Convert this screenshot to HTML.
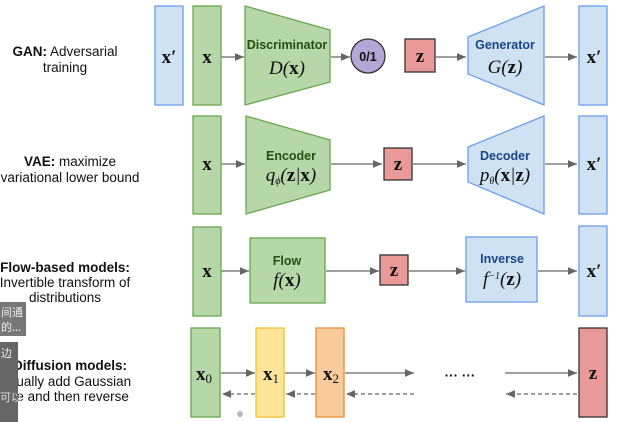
<!DOCTYPE html>
<html><head><meta charset="utf-8"><style>
html,body{margin:0;padding:0;background:#fff;width:632px;height:422px;overflow:hidden}
svg{display:block}
.l{font-family:"Liberation Sans",sans-serif;font-size:13.5px;fill:#111;text-anchor:middle}
.b{font-weight:bold}
.m{font-family:"Liberation Serif",serif;font-size:19px;fill:#111;text-anchor:middle}
.mb{font-family:"Liberation Serif",serif;font-weight:bold;font-size:19px;fill:#111;text-anchor:middle}
.t{font-family:"Liberation Sans",sans-serif;font-weight:bold;font-size:12.5px;text-anchor:middle}
</style></head><body>
<svg width="632" height="422" viewBox="0 0 632 422">
<defs><marker id="a" markerWidth="8" markerHeight="8" refX="7" refY="3" orient="auto"><path d="M0,0 L7,3 L0,6z" fill="#666"/></marker></defs>
<g stroke="#666" stroke-width="1.3" fill="none" marker-end="url(#a)">
<line x1="221" y1="57" x2="244" y2="57"/><line x1="331" y1="57" x2="350" y2="57"/>
<line x1="436" y1="57" x2="466" y2="57"/><line x1="545" y1="57" x2="577" y2="57"/>
<line x1="221" y1="164" x2="245" y2="164"/><line x1="331" y1="164" x2="382" y2="164"/>
<line x1="413" y1="164" x2="466" y2="164"/><line x1="545" y1="164" x2="577" y2="164"/>
<line x1="221" y1="271" x2="249" y2="271"/><line x1="326" y1="271" x2="379" y2="271"/>
<line x1="409" y1="271" x2="465" y2="271"/><line x1="538" y1="271" x2="577" y2="271"/>
<line x1="221" y1="373" x2="255" y2="373"/><line x1="285" y1="373" x2="315" y2="373"/>
<line x1="345" y1="373" x2="414" y2="373"/><line x1="505" y1="373" x2="577" y2="373"/>
</g>
<g stroke="#666" stroke-width="1.3" fill="none" stroke-dasharray="4,3" marker-end="url(#a)">
<line x1="255" y1="394" x2="222" y2="394"/><line x1="315" y1="394" x2="286" y2="394"/>
<line x1="414" y1="394" x2="346" y2="394"/><line x1="577" y1="394" x2="506" y2="394"/>
</g>
<g stroke-width="1.3">
<rect x="155" y="6" width="28" height="99" fill="#cfe2f3" stroke="#6d9eeb"/>
<rect x="193" y="6" width="28" height="99" fill="#b6d7a8" stroke="#6aa84f"/>
<polygon points="245,6 330,30 330,82 245,105" fill="#b6d7a8" stroke="#6aa84f"/>
<circle cx="368" cy="56" r="17" fill="#b4a7d6" stroke="#333"/>
<rect x="405" y="39" width="30" height="33" fill="#ea9999" stroke="#333"/>
<polygon points="468,37 544,6 544,105 468,74" fill="#cfe2f3" stroke="#6d9eeb"/>
<rect x="579" y="6" width="28" height="99" fill="#cfe2f3" stroke="#6d9eeb"/>
<rect x="193" y="116" width="28" height="98" fill="#b6d7a8" stroke="#6aa84f"/>
<polygon points="246,116 330,140 330,190 246,214" fill="#b6d7a8" stroke="#6aa84f"/>
<rect x="384" y="148" width="28" height="32" fill="#ea9999" stroke="#333"/>
<polygon points="468,147 544,116 544,214 468,182" fill="#cfe2f3" stroke="#6d9eeb"/>
<rect x="579" y="116" width="28" height="98" fill="#cfe2f3" stroke="#6d9eeb"/>
<rect x="193" y="227" width="28" height="89" fill="#b6d7a8" stroke="#6aa84f"/>
<rect x="250" y="238" width="75" height="65" fill="#b6d7a8" stroke="#6aa84f"/>
<rect x="380" y="255" width="28" height="30" fill="#ea9999" stroke="#333"/>
<rect x="466" y="237" width="71" height="65" fill="#cfe2f3" stroke="#6d9eeb"/>
<rect x="579" y="226" width="28" height="90" fill="#cfe2f3" stroke="#6d9eeb"/>
<rect x="191" y="328" width="29" height="89" fill="#b6d7a8" stroke="#6aa84f"/>
<rect x="256" y="328" width="28" height="89" fill="#ffe599" stroke="#f1c232"/>
<rect x="316" y="328" width="28" height="89" fill="#f9cb9c" stroke="#e69138"/>
<rect x="579" y="328" width="28" height="89" fill="#ea9999" stroke="#333"/>
</g>
<text class="mb" x="169" y="63">x′</text><text class="mb" x="207" y="63">x</text>
<text class="t" x="287" y="49" fill="#274e13">Discriminator</text>
<text class="m" x="287" y="74" font-style="italic">D(<tspan font-weight="bold" font-style="normal">x</tspan>)</text>
<text class="t" x="368" y="61" font-size="15" fill="#111">0/1</text>
<text class="mb" x="420" y="62">z</text>
<text class="t" x="505" y="49" fill="#1c4587">Generator</text>
<text class="m" x="505" y="73" font-style="italic">G(<tspan font-weight="bold" font-style="normal">z</tspan>)</text>
<text class="mb" x="594" y="63">x′</text>
<text class="mb" x="207" y="170">x</text>
<text class="t" x="291" y="160" fill="#274e13">Encoder</text>
<text class="m" x="291" y="181" font-size="16" font-style="italic">q<tspan font-size="10" dy="3">ϕ</tspan><tspan dy="-3">(</tspan><tspan font-weight="bold" font-style="normal">z</tspan>|<tspan font-weight="bold" font-style="normal">x</tspan>)</text>
<text class="mb" x="398" y="170">z</text>
<text class="t" x="505" y="160" fill="#1c4587">Decoder</text>
<text class="m" x="505" y="181" font-size="16" font-style="italic">p<tspan font-size="10" dy="3">θ</tspan><tspan dy="-3">(</tspan><tspan font-weight="bold" font-style="normal">x</tspan>|<tspan font-weight="bold" font-style="normal">z</tspan>)</text>
<text class="mb" x="594" y="170">x′</text>
<text class="mb" x="207" y="277">x</text>
<text class="t" x="287" y="265" fill="#274e13" font-size="13.5">Flow</text>
<text class="m" x="287" y="286" font-style="italic">f(<tspan font-weight="bold" font-style="normal">x</tspan>)</text>
<text class="mb" x="394" y="276">z</text>
<text class="t" x="502" y="263" fill="#1c4587" font-size="13.5">Inverse</text>
<text class="m" x="502" y="285" font-style="italic">f<tspan font-size="10" dy="-6">−1</tspan><tspan dy="6">(</tspan><tspan font-weight="bold" font-style="normal">z</tspan>)</text>
<text class="mb" x="594" y="277">x′</text>
<text class="mb" x="204" y="380" font-size="20">x<tspan font-size="13" dy="3" font-weight="normal">0</tspan></text>
<text class="mb" x="271" y="380" font-size="20">x<tspan font-size="13" dy="3" font-weight="normal">1</tspan></text>
<text class="mb" x="331" y="380" font-size="20">x<tspan font-size="13" dy="3" font-weight="normal">2</tspan></text>
<text class="mb" x="593" y="379">z</text>
<text class="l" x="460" y="380" font-size="16" font-weight="bold">··· ···</text>
<text class="l" x="65" y="56"><tspan class="b">GAN:</tspan> Adversarial</text>
<text class="l" x="65" y="72">training</text>
<text class="l" x="70" y="166"><tspan class="b">VAE:</tspan> maximize</text>
<text class="l" x="70" y="182">variational lower bound</text>
<text class="l b" x="65" y="272">Flow-based models:</text>
<text class="l" x="65" y="287">Invertible transform of</text>
<text class="l" x="65" y="302">distributions</text>
<text class="l b" x="70" y="370">Diffusion models:</text>
<text class="l" x="64" y="386">radually add Gaussian</text>
<text class="l" x="64" y="401">oise and then reverse</text>
<rect x="0" y="302" width="26" height="34" fill="#777"/>
<text x="1" y="316" font-family="Noto Sans CJK SC,sans-serif" font-size="11" fill="#eee">间通</text>
<text x="1" y="331" font-family="Noto Sans CJK SC,sans-serif" font-size="11" fill="#eee">的...</text>
<rect x="0" y="342" width="18" height="80" fill="#666"/>
<text x="1" y="357" font-family="Noto Sans CJK SC,sans-serif" font-size="11" fill="#eee">边</text>
<text x="0" y="401" font-family="Noto Sans CJK SC,sans-serif" font-size="11" fill="#ddd">可以</text>
<circle cx="240" cy="414" r="3" fill="#bbb"/>
</svg>
</body></html>
